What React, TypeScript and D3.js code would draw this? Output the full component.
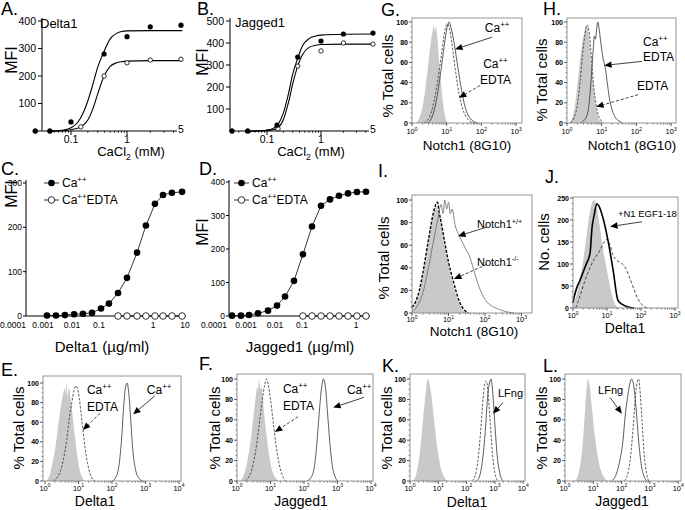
import React from 'react';
import * as d3 from 'd3';

const FONT = "'Liberation Sans', Arial, Helvetica, sans-serif";
type Pt = [number, number];

// ---------------- Panel A: Delta1 binding vs CaCl2 ----------------
const aCaConc = [0.023, 0.042, 0.1, 0.39, 1, 2, 5];
const aCaMFI = [0, 0, 33, 280, 343, 379, 385];
const aEdtaConc = [0.023, 0.042, 0.15, 0.39, 1, 2, 5];
const aEdtaMFI = [0, 0, 15, 200, 248, 258, 261];
const aCaFitConc = [0.042, 0.07, 0.1, 0.13, 0.16, 0.2, 0.25, 0.3, 0.39, 0.5, 0.65, 0.8, 1, 2, 5.2];
const aCaFitMFI = [0, 3, 12, 30, 60, 110, 175, 232, 290, 335, 355, 362, 364, 365, 365];
const aEdtaFitConc = [0.042, 0.08, 0.12, 0.15, 0.2, 0.25, 0.3, 0.39, 0.5, 0.65, 0.8, 1, 2, 5.2];
const aEdtaFitMFI = [0, 2, 8, 15, 40, 85, 135, 200, 235, 248, 252, 254, 256, 256];
const aYTicks = [100, 200, 300, 400];

// ---------------- Panel B: Jagged1 binding vs CaCl2 ----------------
const bCaConc = [0.0225, 0.044, 0.153, 0.37, 1, 2, 5];
const bCaMFI = [0, 0, 27, 336, 409, 441, 445];
const bEdtaConc = [0.0225, 0.044, 0.16, 0.37, 1, 2, 5];
const bEdtaMFI = [0, 0, 10, 295, 364, 400, 395];
const bCaFitConc = [0.05, 0.08, 0.1, 0.13, 0.16, 0.2, 0.25, 0.3, 0.37, 0.45, 0.6, 0.8, 1, 2, 5];
const bCaFitMFI = [0, 1, 4, 12, 30, 80, 170, 260, 330, 385, 420, 432, 436, 440, 441];
const bEdtaFitConc = [0.05, 0.08, 0.12, 0.16, 0.2, 0.25, 0.3, 0.37, 0.45, 0.6, 0.8, 1, 2, 5];
const bEdtaFitMFI = [0, 1, 4, 15, 50, 130, 215, 295, 345, 380, 390, 393, 395, 395];
const bYTicks = [100, 200, 300, 400, 500];

const abXTicks = [0.1, 1];
const abXTickLabels = ['0.1', '1'];
const abEndTick = 5;

// ---------------- Panel C: Delta1 titration ----------------
const cConc = [0.00137, 0.0028, 0.0057, 0.0119, 0.0255, 0.055, 0.109, 0.153, 0.225, 0.33, 0.506, 0.74, 1.15, 2.05, 3.9, 8.1];
const cCa = [1, 1, 2, 4, 5, 7, 17, 28, 52, 86, 143, 204, 253, 273, 278, 280];
const cEdtaConc = [0.225, 0.33, 0.506, 0.74, 1.15, 2.05, 3.9, 8.1];
const cEdta = [0, 0, 0, 0, 0, 0, 0, 0];
const cYTicks = [0, 100, 200, 300];
const cXTicks = [0.0001, 0.001, 0.01, 0.1, 1, 10];
const cXTickLabels = ['0.0001', '0.001', '0.01', '0.1', '1', '10'];

// ---------------- Panel D: Jagged1 titration ----------------
const dConc = [0.000365, 0.000698, 0.00127, 0.00259, 0.00574, 0.0119, 0.0235, 0.0505, 0.104, 0.153, 0.225, 0.33, 0.484, 0.711, 1.04, 1.53];
const dCa = [1, 1, 3, 8, 16, 31, 58, 105, 184, 267, 329, 348, 359, 366, 370, 371];
const dEdtaConc = [0.104, 0.153, 0.225, 0.33, 0.484, 0.711, 1.04, 1.53];
const dEdta = [0, 0, 0, 0, 0, 0, 0, 0];
const dYTicks = [0, 100, 200, 300, 400];
const dXTicks = [0.0001, 0.001, 0.01, 0.1, 1];
const dXTickLabels = ['0.0001', '0.001', '0.01', '0.1', '1'];

// ---------------- Histograms (x = log10 intensity, y = % / count) ----------------
const eGrey: Pt[] = [[0.05, 0], [0.1, 3], [0.16, 8], [0.22, 18], [0.3, 32], [0.37, 50], [0.44, 68], [0.5, 82], [0.54, 88], [0.58, 95], [0.61, 89], [0.64, 100], [0.67, 86], [0.71, 96], [0.75, 88], [0.79, 78], [0.85, 58], [0.91, 40], [0.97, 24], [1.03, 12], [1.09, 5], [1.15, 1], [1.2, 0]];
const eDashed: Pt[] = [[0.25, 0], [0.35, 3], [0.45, 9], [0.55, 22], [0.65, 42], [0.72, 62], [0.8, 80], [0.87, 93], [0.92, 97], [0.97, 94], [1.02, 85], [1.08, 68], [1.14, 50], [1.2, 33], [1.27, 18], [1.34, 8], [1.42, 2], [1.5, 0]];
const eSolid: Pt[] = [[2.0, 0], [2.1, 3], [2.2, 14], [2.28, 40], [2.34, 72], [2.4, 95], [2.45, 100], [2.5, 90], [2.56, 62], [2.62, 32], [2.7, 12], [2.8, 3], [2.92, 0]];

const fGrey: Pt[] = [[0.1, 0], [0.2, 6], [0.3, 18], [0.4, 38], [0.48, 60], [0.55, 80], [0.6, 92], [0.63, 88], [0.66, 100], [0.7, 90], [0.74, 92], [0.8, 70], [0.88, 45], [0.96, 25], [1.05, 10], [1.15, 3], [1.25, 0]];
const fDashed: Pt[] = [[0.25, 0], [0.35, 4], [0.45, 12], [0.55, 28], [0.65, 52], [0.75, 78], [0.82, 93], [0.88, 100], [0.93, 95], [1.0, 80], [1.08, 58], [1.16, 36], [1.25, 18], [1.35, 6], [1.45, 0]];
const fSolid: Pt[] = [[2.1, 0], [2.2, 3], [2.3, 12], [2.38, 35], [2.45, 65], [2.52, 90], [2.58, 100], [2.64, 92], [2.7, 68], [2.77, 38], [2.85, 14], [2.93, 4], [3.0, 0]];

const gGrey: Pt[] = [[0.1, 0], [0.2, 4], [0.3, 15], [0.4, 38], [0.48, 62], [0.55, 82], [0.6, 92], [0.63, 97], [0.66, 90], [0.69, 95], [0.73, 85], [0.78, 62], [0.84, 38], [0.9, 18], [0.96, 6], [1.04, 0]];
const gSolid: Pt[] = [[0.45, 0], [0.55, 4], [0.65, 14], [0.75, 32], [0.85, 56], [0.95, 82], [1.02, 96], [1.07, 100], [1.12, 95], [1.2, 82], [1.3, 60], [1.4, 38], [1.5, 20], [1.6, 9], [1.72, 3], [1.9, 0]];
const gDashed: Pt[] = [[0.35, 0], [0.45, 3], [0.55, 10], [0.65, 24], [0.75, 44], [0.85, 68], [0.93, 88], [0.99, 97], [1.03, 98], [1.09, 92], [1.16, 76], [1.26, 50], [1.36, 28], [1.46, 14], [1.56, 6], [1.7, 1], [1.8, 0]];

const hGrey: Pt[] = [[0.05, 0], [0.15, 5], [0.25, 22], [0.33, 48], [0.42, 75], [0.5, 90], [0.56, 97], [0.6, 93], [0.65, 80], [0.7, 60], [0.76, 38], [0.82, 20], [0.88, 8], [0.95, 2], [1.02, 0]];
const hDashed: Pt[] = [[0.1, 0], [0.2, 5], [0.3, 18], [0.38, 42], [0.45, 68], [0.52, 88], [0.58, 97], [0.63, 92], [0.68, 75], [0.73, 52], [0.78, 33], [0.84, 18], [0.9, 8], [0.97, 3], [1.05, 0]];
const hSolid: Pt[] = [[0.4, 0], [0.5, 3], [0.58, 8], [0.64, 20], [0.7, 45], [0.75, 70], [0.79, 86], [0.82, 83], [0.86, 95], [0.89, 100], [0.93, 92], [0.98, 78], [1.04, 64], [1.1, 55], [1.16, 40], [1.22, 25], [1.3, 13], [1.4, 5], [1.5, 2], [1.6, 0]];

const iGrey: Pt[] = [[0, 3], [0.1, 8], [0.2, 18], [0.3, 34], [0.4, 52], [0.5, 72], [0.58, 86], [0.65, 95], [0.7, 92], [0.76, 85], [0.85, 68], [0.95, 50], [1.05, 35], [1.15, 22], [1.25, 12], [1.35, 5], [1.45, 1], [1.55, 0]];
const iDashed: Pt[] = [[0, 5], [0.1, 10], [0.2, 20], [0.3, 36], [0.4, 55], [0.5, 74], [0.58, 88], [0.65, 96], [0.7, 98], [0.74, 90], [0.8, 80], [0.9, 62], [1.0, 45], [1.1, 32], [1.2, 20], [1.3, 10], [1.4, 4], [1.55, 0]];
const iSolid: Pt[] = [[0, 1], [0.14, 6], [0.3, 18], [0.45, 40], [0.58, 62], [0.7, 82], [0.8, 96], [0.85, 88], [0.9, 100], [0.95, 92], [1.0, 98], [1.05, 88], [1.1, 92], [1.18, 78], [1.3, 68], [1.45, 58], [1.6, 48], [1.72, 35], [1.85, 22], [2.0, 12], [2.2, 6], [2.4, 3], [2.6, 1], [2.8, 0]];

const jGrey: Pt[] = [[0, 5], [0.06, 18], [0.12, 34], [0.2, 65], [0.3, 108], [0.4, 165], [0.5, 220], [0.58, 242], [0.63, 246], [0.68, 235], [0.76, 200], [0.85, 150], [0.95, 105], [1.03, 72], [1.12, 38], [1.2, 15], [1.3, 3], [1.4, 0]];
const jSolid: Pt[] = [[0, 12], [0.05, 30], [0.12, 48], [0.2, 62], [0.3, 82], [0.4, 102], [0.5, 124], [0.56, 183], [0.62, 210], [0.7, 237], [0.76, 232], [0.88, 205], [1.03, 153], [1.18, 86], [1.32, 18], [1.45, 8], [1.6, 3], [1.8, 0]];
const jDashed: Pt[] = [[0.08, 0], [0.15, 15], [0.25, 38], [0.35, 62], [0.45, 82], [0.55, 100], [0.65, 115], [0.72, 122], [0.8, 132], [0.9, 148], [1.0, 156], [1.08, 145], [1.18, 120], [1.29, 108], [1.4, 103], [1.53, 93], [1.65, 72], [1.78, 45], [1.9, 22], [2.02, 8], [2.12, 2], [2.2, 0]];

const kGrey: Pt[] = [[0.1, 0], [0.2, 5], [0.3, 18], [0.4, 42], [0.5, 72], [0.57, 90], [0.63, 100], [0.68, 97], [0.75, 85], [0.85, 60], [0.95, 35], [1.05, 18], [1.15, 7], [1.25, 2], [1.35, 0]];
const kDashed: Pt[] = [[2.2, 0], [2.3, 5], [2.4, 20], [2.5, 50], [2.58, 80], [2.65, 97], [2.7, 98], [2.76, 85], [2.84, 55], [2.92, 25], [3.0, 8], [3.1, 0]];
const kSolid: Pt[] = [[2.35, 0], [2.45, 4], [2.55, 18], [2.65, 45], [2.73, 78], [2.8, 95], [2.86, 100], [2.92, 88], [3.0, 55], [3.08, 25], [3.17, 8], [3.28, 0]];

const lGrey: Pt[] = [[0.35, 0], [0.45, 5], [0.55, 18], [0.65, 45], [0.72, 75], [0.78, 95], [0.82, 100], [0.87, 93], [0.95, 72], [1.05, 45], [1.15, 25], [1.25, 12], [1.35, 5], [1.5, 0]];
const lSolid: Pt[] = [[1.65, 0], [1.75, 3], [1.85, 10], [1.95, 22], [2.05, 40], [2.12, 62], [2.2, 80], [2.28, 94], [2.35, 100], [2.42, 95], [2.5, 75], [2.6, 40], [2.7, 15], [2.8, 4], [2.9, 0]];
const lDashed: Pt[] = [[2.1, 0], [2.2, 5], [2.3, 20], [2.4, 50], [2.48, 80], [2.55, 97], [2.6, 100], [2.66, 85], [2.73, 55], [2.8, 25], [2.88, 8], [2.95, 0]];

// ---------------- helpers ----------------
function zip(xs: number[], ys: number[]): Pt[] {
  return xs.map((x, i) => [x, ys[i]] as Pt);
}

function parseRich(s: string) {
  const re = /(\^\{[^}]*\}|_\{[^}]*\})/g;
  const out: { t: string; k: string }[] = [];
  let last = 0;
  let m: RegExpExecArray | null;
  while ((m = re.exec(s))) {
    if (m.index > last) out.push({ t: s.slice(last, m.index), k: 'n' });
    out.push({ t: m[0].slice(2, -1), k: m[0][0] === '^' ? 'sup' : 'sub' });
    last = m.index + m[0].length;
  }
  if (last < s.length) out.push({ t: s.slice(last), k: 'n' });
  return out;
}

function Rich({ x, y, s, size, anchor = 'start', weight = 'normal', fill = '#000' }: any) {
  const parts = parseRich(s);
  let cur = 0;
  return (
    <text x={x} y={y} fontSize={size} fontFamily={FONT} textAnchor={anchor} fontWeight={weight} fill={fill}>
      {parts.map((p, i) => {
        const target = p.k === 'sup' ? -0.42 * size : p.k === 'sub' ? 0.3 * size : 0;
        const dy = target - cur;
        cur = target;
        return (
          <tspan key={i} dy={dy} fontSize={p.k === 'n' ? size : size * 0.66}>
            {p.t}
          </tspan>
        );
      })}
    </text>
  );
}

function VLabel({ cx, cy, s, size }: any) {
  return (
    <g transform={`translate(${cx + size * 0.36},${cy}) rotate(-90)`}>
      <Rich x={0} y={0} s={s} size={size} anchor="middle" />
    </g>
  );
}

function Arrow({ x1, y1, x2, y2, dashed }: any) {
  const ang = Math.atan2(y2 - y1, x2 - x1);
  const L = 7.5, W = 3.2;
  const bx = x2 - L * Math.cos(ang), by = y2 - L * Math.sin(ang);
  const pts = [
    [x2, y2],
    [bx - W * Math.sin(ang), by + W * Math.cos(ang)],
    [bx + W * Math.sin(ang), by - W * Math.cos(ang)],
  ];
  return (
    <g>
      <line x1={x1} y1={y1} x2={bx} y2={by} stroke="#111" strokeWidth={0.8} strokeDasharray={dashed ? '3,2' : undefined} />
      <polygon points={pts.map((p) => p.join(',')).join(' ')} fill="#000" />
    </g>
  );
}

// ---------------- A / B dose panels ----------------
function DosePanel({ L, ca, edta, caFit, edtaFit, yTicks }: any) {
  const x = d3.scaleLog().domain(L.xDomain).range(L.xRange);
  const y = d3.scaleLinear().domain([0, L.yMax]).range([L.yZeroPx, L.yMaxPx]);
  const line = d3.line<Pt>().x((d) => x(d[0])).y((d) => y(d[1])).curve(d3.curveMonotoneX);
  const minor: number[] = [];
  [0.01, 0.1, 1].forEach((b) => d3.range(2, 10).forEach((k) => minor.push(b * k)));
  const minorIn = minor.filter((v) => x(v) > L.axisX + 2 && x(v) < L.x1);
  const y0 = y(0);
  return (
    <g fontFamily={FONT}>
      <text x={L.letterX} y={L.letterY} fontSize={18}>{L.letter}</text>
      <text x={L.titleX} y={L.titleY} fontSize={13}>{L.title}</text>
      <VLabel cx={L.mfiX} cy={L.mfiY} s="MFI" size={16} />
      <line x1={L.axisX} x2={L.axisX} y1={L.axisTop} y2={y0} stroke="#000" strokeWidth={1} />
      {yTicks.map((t: number) => (
        <g key={t}>
          <line x1={L.axisX - 4} x2={L.axisX} y1={y(t)} y2={y(t)} stroke="#000" />
          <text x={L.axisX - 6} y={y(t) + 3.6} textAnchor="end" fontSize={10.5}>{t}</text>
        </g>
      ))}
      <line x1={L.x0} x2={L.x1} y1={y0} y2={y0} stroke="#000" strokeWidth={1} />
      {minorIn.map((v) => (
        <line key={v} x1={x(v)} x2={x(v)} y1={y0} y2={y0 + 2} stroke="#000" strokeWidth={0.7} />
      ))}
      {abXTicks.map((v, i) => (
        <g key={v}>
          <line x1={x(v)} x2={x(v)} y1={y0} y2={y0 + 4} stroke="#000" />
          <text x={x(v)} y={L.tickLabelY} textAnchor="middle" fontSize={10.5}>{abXTickLabels[i]}</text>
        </g>
      ))}
      <text x={x(abEndTick)} y={y0 + 2} textAnchor="middle" fontSize={10.5}>{abEndTick}</text>
      <Rich x={L.xLabelX} y={L.xLabelY} s="CaCl_{2} (mM)" size={13} anchor="middle" />
      <path d={line(caFit) || ''} fill="none" stroke="#000" strokeWidth={1.1} />
      <path d={line(edtaFit) || ''} fill="none" stroke="#000" strokeWidth={1.1} />
      {edta.map((d: Pt, i: number) => (
        <circle key={'e' + i} cx={x(d[0])} cy={y(d[1])} r={2.2} fill="#fff" stroke="#000" strokeWidth={0.8} />
      ))}
      {ca.map((d: Pt, i: number) => (
        <circle key={'c' + i} cx={x(d[0])} cy={y(d[1])} r={2.6} fill="#000" />
      ))}
    </g>
  );
}

// ---------------- C / D titration panels ----------------
function TitrationPanel({ L, ca, edta, yTicks, xTicks, xTickLabels }: any) {
  const x = d3.scaleLog().domain(L.xDomain).range(L.xRange);
  const y = d3.scaleLinear().domain([0, L.yMax]).range([L.yZeroPx, L.yMaxPx]);
  const line = d3.line<Pt>().x((d) => x(d[0])).y((d) => y(d[1]));
  const y0 = y(0);
  const lg = L.legend;
  return (
    <g fontFamily={FONT}>
      <text x={L.letterX} y={L.letterY} fontSize={18}>{L.letter}</text>
      <VLabel cx={L.mfiX} cy={L.mfiY} s="MFI" size={16} />
      <line x1={L.axisX} x2={L.axisX} y1={L.axisTop} y2={y0} stroke="#000" />
      {yTicks.map((t: number) => (
        <g key={t}>
          <line x1={L.axisX - 3} x2={L.axisX} y1={y(t)} y2={y(t)} stroke="#000" />
          <text x={L.axisX - 4} y={y(t) + 3} textAnchor="end" fontSize={8.5}>{t}</text>
        </g>
      ))}
      <line x1={L.axisX} x2={L.x1} y1={y0} y2={y0} stroke="#000" />
      {xTicks.map((v: number, i: number) => (
        <text key={v} x={x(v)} y={L.tickLabelY} textAnchor="middle" fontSize={8.5}>{xTickLabels[i]}</text>
      ))}
      <Rich x={L.xLabelX} y={L.xLabelY} s={L.xLabel} size={15} anchor="middle" />
      <path d={line(edta) || ''} fill="none" stroke="#000" strokeWidth={0.8} />
      <path d={line(ca) || ''} fill="none" stroke="#000" strokeWidth={0.8} />
      {edta.map((d: Pt, i: number) => (
        <circle key={'e' + i} cx={x(d[0])} cy={y(d[1])} r={3.3} fill="#fff" stroke="#000" strokeWidth={0.8} />
      ))}
      {ca.map((d: Pt, i: number) => (
        <circle key={'c' + i} cx={x(d[0])} cy={y(d[1])} r={3.3} fill="#000" />
      ))}
      {/* legend */}
      <line x1={lg.x} x2={lg.x + 15} y1={lg.y} y2={lg.y} stroke="#000" strokeWidth={0.8} />
      <circle cx={lg.x + 7.5} cy={lg.y} r={3.3} fill="#000" />
      <Rich x={lg.x + 18} y={lg.y + 4} s="Ca^{++}" size={12} />
      <line x1={lg.x} x2={lg.x + 15} y1={lg.y + 17} y2={lg.y + 17} stroke="#000" strokeWidth={0.8} />
      <circle cx={lg.x + 7.5} cy={lg.y + 17} r={3.3} fill="#fff" stroke="#000" strokeWidth={0.8} />
      <Rich x={lg.x + 18} y={lg.y + 21} s="Ca^{++}EDTA" size={12} />
    </g>
  );
}

// ---------------- histogram panels ----------------
function HistPanel({ S, grey, solid, dashed, st, notes, arrows }: any) {
  const x = d3.scaleLinear().domain([0, S.nDec]).range([S.x0, S.x0 + S.nDec * S.dec]);
  const y = d3.scaleLinear().domain([0, S.yMax]).range([S.bottom, S.yTopPx]);
  const area = d3.area<Pt>().x((d) => x(d[0])).y0(S.bottom).y1((d) => y(d[1])).curve(d3.curveMonotoneX);
  const line = d3.line<Pt>().x((d) => x(d[0])).y((d) => y(d[1])).curve(d3.curveMonotoneX);
  const yMajor = d3.range(0, S.yMax + 0.1, S.yStep);
  const yMinor = d3.range(0, S.yMax + 0.1, S.yStep / 4).filter((v) => !yMajor.includes(v));
  const decs = d3.range(0, S.nDec + 1);
  const xMinor: number[] = [];
  d3.range(0, S.nDec).forEach((e) => d3.range(2, 10).forEach((k) => xMinor.push(e + Math.log10(k))));
  return (
    <g fontFamily={FONT}>
      <text x={S.letterX} y={S.letterY} fontSize={18}>{S.letter}</text>
      <path d={area(grey) || ''} fill="#c9c9c9" stroke="none" />
      <path d={line(dashed) || ''} fill="none" stroke={st.dashedColor} strokeWidth={st.dashedWidth} strokeDasharray={st.dash} />
      <path d={line(solid) || ''} fill="none" stroke={st.solidColor} strokeWidth={st.solidWidth} />
      <rect x={S.left} y={S.top} width={S.right - S.left} height={S.bottom - S.top} fill="none" stroke="#8a8a8a" strokeWidth={0.9} />
      {yMajor.map((v) => (
        <g key={v}>
          <line x1={S.left - 3} x2={S.left} y1={y(v)} y2={y(v)} stroke="#333" strokeWidth={0.8} />
          <text x={S.left - 4} y={y(v) + 2.5} textAnchor="end" fontSize={7} fontWeight="bold">{v}</text>
        </g>
      ))}
      {yMinor.map((v) => (
        <line key={v} x1={S.left - 1.5} x2={S.left} y1={y(v)} y2={y(v)} stroke="#555" strokeWidth={0.6} />
      ))}
      {decs.map((e) => (
        <g key={e}>
          <line x1={x(e)} x2={x(e)} y1={S.bottom} y2={S.bottom + 3} stroke="#333" strokeWidth={0.8} />
          <Rich x={x(e)} y={S.bottom + (S.tickDy || 11)} s={`10^{${e}}`} size={7.5} anchor="middle" />
        </g>
      ))}
      {xMinor.map((v) => (
        <line key={v} x1={x(v)} x2={x(v)} y1={S.bottom} y2={S.bottom + 1.8} stroke="#555" strokeWidth={0.6} />
      ))}
      <Rich x={S.xLabelX} y={S.xLabelY} s={S.xLabel} size={S.xLabelSize} anchor="middle" />
      <VLabel cx={S.yLabelX} cy={S.yLabelY} s={S.yLabel} size={15} />
      {notes.map((n: any, i: number) => (
        <Rich key={i} x={x(n.x)} y={y(n.y)} s={n.s} size={n.size || 12} />
      ))}
      {arrows.map((a: any, i: number) => (
        <Arrow key={i} x1={x(a.x1)} y1={y(a.y1)} x2={x(a.x2)} y2={y(a.y2)} dashed={a.dashed} />
      ))}
    </g>
  );
}

const std = { solidColor: '#333', solidWidth: 0.8, dashedColor: '#333', dashedWidth: 0.8, dash: '2.5,1.5' };
const iStyle = { solidColor: '#6a6a6a', solidWidth: 0.8, dashedColor: '#000', dashedWidth: 1.4, dash: '3,1.5' };
const jStyle = { solidColor: '#000', solidWidth: 1.6, dashedColor: '#333', dashedWidth: 0.9, dash: '3,2' };

const box = (o: any) => ({ nDec: 4, yMax: 100, yStep: 20, yLabel: '% Total cells', xLabelSize: 14, ...o });

export default function App() {
  return (
    <svg width={685} height={510} style={{ position: 'absolute', left: 0, top: 0, background: '#fff' }}>
      <rect x={0} y={0} width={685} height={510} fill="#fff" />
      <DosePanel
        L={{ letter: 'A.', letterX: 1, letterY: 15, title: 'Delta1', titleX: 40, titleY: 28, mfiX: 11, mfiY: 60,
          axisX: 42, axisTop: 18, x0: 33, x1: 177, xDomain: [0.1, 1, 5], xRange: [71, 127, 181],
          yMax: 400, yZeroPx: 131, yMaxPx: 21, tickLabelY: 143, xLabelX: 131, xLabelY: 156 }}
        ca={zip(aCaConc, aCaMFI)} edta={zip(aEdtaConc, aEdtaMFI)}
        caFit={zip(aCaFitConc, aCaFitMFI)} edtaFit={zip(aEdtaFitConc, aEdtaFitMFI)} yTicks={aYTicks}
      />
      <DosePanel
        L={{ letter: 'B.', letterX: 197, letterY: 15, title: 'Jagged1', titleX: 235, titleY: 27, mfiX: 202, mfiY: 62,
          axisX: 230, axisTop: 18, x0: 230, x1: 369, xDomain: [0.1, 1, 5], xRange: [267, 321, 373],
          yMax: 500, yZeroPx: 131, yMaxPx: 21, tickLabelY: 143, xLabelX: 311, xLabelY: 156 }}
        ca={zip(bCaConc, bCaMFI)} edta={zip(bEdtaConc, bEdtaMFI)}
        caFit={zip(bCaFitConc, bCaFitMFI)} edtaFit={zip(bEdtaFitConc, bEdtaFitMFI)} yTicks={bYTicks}
      />
      <TitrationPanel
        L={{ letter: 'C.', letterX: 1, letterY: 175, mfiX: 11, mfiY: 194, axisX: 26, axisTop: 180, x1: 186,
          xDomain: [0.0001, 0.001, 0.01, 0.1, 1, 10], xRange: [13, 43, 72, 99, 153, 185],
          yMax: 300, yZeroPx: 316, yMaxPx: 183, tickLabelY: 328, xLabel: 'Delta1 (µg/ml)', xLabelX: 102, xLabelY: 352,
          legend: { x: 44, y: 183 } }}
        ca={zip(cConc, cCa)} edta={zip(cEdtaConc, cEdta)} yTicks={cYTicks} xTicks={cXTicks} xTickLabels={cXTickLabels}
      />
      <TitrationPanel
        L={{ letter: 'D.', letterX: 199, letterY: 175, mfiX: 202, mfiY: 232, axisX: 229, axisTop: 180, x1: 370,
          xDomain: [0.0001, 0.001, 0.01, 0.1, 1], xRange: [214, 246, 275, 302, 356],
          yMax: 400, yZeroPx: 316, yMaxPx: 182, tickLabelY: 328, xLabel: 'Jagged1 (µg/ml)', xLabelX: 300, xLabelY: 352,
          legend: { x: 234, y: 183 } }}
        ca={zip(dConc, dCa)} edta={zip(dEdtaConc, dEdta)} yTicks={dYTicks} xTicks={dXTicks} xTickLabels={dXTickLabels}
      />
      <HistPanel
        S={box({ letter: 'E.', letterX: 1, letterY: 376, left: 43, right: 181, top: 376, bottom: 481, x0: 45, dec: 33.5, yTopPx: 383,
          tickDy: 9.5, xLabel: 'Delta1', xLabelX: 95, xLabelY: 506, yLabelX: 19, yLabelY: 428 })}
        grey={eGrey} solid={eSolid} dashed={eDashed} st={std}
        notes={[{ x: 1.25, y: 89, s: 'Ca^{++}' }, { x: 1.25, y: 71, s: 'EDTA' }, { x: 3.04, y: 89, s: 'Ca^{++}' }]}
        arrows={[{ x1: 1.64, y1: 69, x2: 1.13, y2: 52, dashed: true }, { x1: 3.28, y1: 87, x2: 2.63, y2: 68 }]}
      />
      <HistPanel
        S={box({ letter: 'F.', letterX: 199, letterY: 370, left: 237, right: 373, top: 374, bottom: 481, x0: 237, dec: 33.5, yTopPx: 379,
          tickDy: 9.5, xLabel: 'Jagged1', xLabelX: 301, xLabelY: 506, yLabelX: 215, yLabelY: 428 })}
        grey={fGrey} solid={fSolid} dashed={fDashed} st={std}
        notes={[{ x: 1.37, y: 86, s: 'Ca^{++}' }, { x: 1.37, y: 70, s: 'EDTA' }, { x: 3.28, y: 85, s: 'Ca^{++}' }]}
        arrows={[{ x1: 1.82, y1: 63, x2: 1.13, y2: 48, dashed: true }, { x1: 3.79, y1: 82, x2: 2.87, y2: 72 }]}
      />
      <HistPanel
        S={box({ letter: 'G.', letterX: 381, letterY: 16, nDec: 3, left: 412, right: 522, top: 18, bottom: 123, x0: 412, dec: 34.7, yTopPx: 22,
          xLabel: 'Notch1 (8G10)', xLabelSize: 13.5, xLabelX: 467, xLabelY: 150, yLabelX: 388, yLabelY: 76 })}
        grey={gGrey} solid={gSolid} dashed={gDashed} st={std}
        notes={[{ x: 2.1, y: 90, s: 'Ca^{++}' }, { x: 2.05, y: 54, s: 'Ca^{++}' }, { x: 1.96, y: 39, s: 'EDTA' }]}
        arrows={[{ x1: 2.31, y1: 85, x2: 1.24, y2: 73 }, { x1: 1.96, y1: 37, x2: 1.35, y2: 25, dashed: true }]}
      />
      <HistPanel
        S={box({ letter: 'H.', letterX: 543, letterY: 15, nDec: 3, left: 567, right: 676, top: 18, bottom: 123, x0: 567, dec: 34.7, yTopPx: 22,
          xLabel: 'Notch1 (8G10)', xLabelSize: 13.5, xLabelX: 632, xLabelY: 150, yLabelX: 542, yLabelY: 80 })}
        grey={hGrey} solid={hSolid} dashed={hDashed} st={std}
        notes={[{ x: 2.19, y: 76, s: 'Ca^{++}' }, { x: 2.19, y: 61, s: 'EDTA' }, { x: 2.02, y: 33, s: 'EDTA' }]}
        arrows={[{ x1: 2.16, y1: 61, x2: 1.07, y2: 57 }, { x1: 2.05, y1: 28, x2: 0.84, y2: 16, dashed: true }]}
      />
      <HistPanel
        S={box({ letter: 'I.', letterX: 378, letterY: 177, nDec: 3, left: 412, right: 532, top: 195, bottom: 313, x0: 412, dec: 36.5, yTopPx: 200,
          tickDy: 9, xLabel: 'Notch1 (8G10)', xLabelSize: 13.5, xLabelX: 474, xLabelY: 336, yLabelX: 384, yLabelY: 258 })}
        grey={iGrey} solid={iSolid} dashed={iDashed} st={iStyle}
        notes={[{ x: 1.78, y: 75, s: 'Notch1^{+/+}', size: 11 }, { x: 1.78, y: 42, s: 'Notch1^{-/-}', size: 11 }]}
        arrows={[{ x1: 2.05, y1: 76, x2: 1.26, y2: 68 }, { x1: 2.05, y1: 43, x2: 1.15, y2: 30, dashed: true }]}
      />
      <HistPanel
        S={box({ letter: 'J.', letterX: 545, letterY: 183, nDec: 3, yMax: 250, yStep: 50, left: 573, right: 678, top: 197, bottom: 308, x0: 573, dec: 34, yTopPx: 198,
          tickDy: 10, xLabel: 'Delta1', xLabelX: 625, xLabelY: 333, yLabel: 'No. cells', yLabelX: 544, yLabelY: 242 })}
        grey={jGrey} solid={jSolid} dashed={jDashed} st={jStyle}
        notes={[{ x: 1.32, y: 207, s: '+N1 EGF1-18', size: 9.5 }]}
        arrows={[{ x1: 2.03, y1: 196, x2: 1.09, y2: 185 }]}
      />
      <HistPanel
        S={box({ letter: 'K.', letterX: 382, letterY: 372, left: 410, right: 525, top: 374, bottom: 481, x0: 410, dec: 28.3, yTopPx: 379,
          tickDy: 9.5, xLabel: 'Delta1', xLabelX: 467, xLabelY: 507, yLabelX: 387, yLabelY: 428 })}
        grey={kGrey} solid={kSolid} dashed={kDashed} st={std}
        notes={[{ x: 3.11, y: 82, s: 'LFng', size: 11 }]}
        arrows={[{ x1: 3.29, y1: 77, x2: 2.93, y2: 66 }]}
      />
      <HistPanel
        S={box({ letter: 'L.', letterX: 543, letterY: 372, left: 565, right: 681, top: 374, bottom: 481, x0: 565, dec: 28.3, yTopPx: 379,
          tickDy: 9.5, xLabel: 'Jagged1', xLabelX: 622, xLabelY: 506, yLabelX: 542, yLabelY: 428 })}
        grey={lGrey} solid={lSolid} dashed={lDashed} st={std}
        notes={[{ x: 1.17, y: 85, s: 'LFng', size: 11 }]}
        arrows={[{ x1: 1.59, y1: 82, x2: 2.01, y2: 66 }]}
      />
    </svg>
  );
}
